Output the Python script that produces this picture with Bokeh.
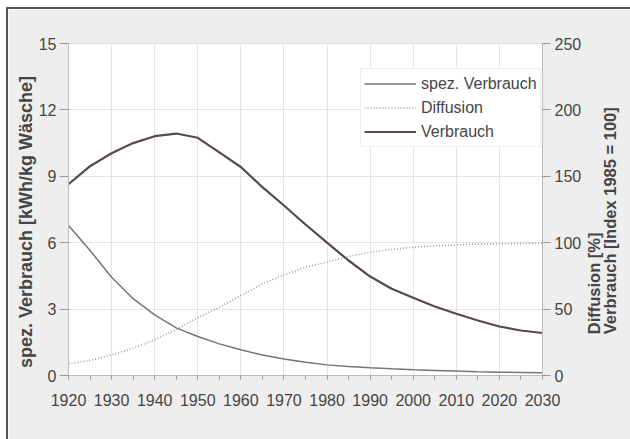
from bokeh.plotting import figure
from bokeh.models import (LinearAxis, Range1d, FixedTicker, Legend, LegendItem,
                          ColumnDataSource)
from bokeh.embed import file_html
from bokeh.resources import INLINE
import math

# ---- data ----
years = [1920, 1925, 1930, 1935, 1940, 1945, 1950, 1955, 1960, 1965, 1970, 1975,
         1980, 1985, 1990, 1995, 2000, 2005, 2010, 2015, 2020, 2025, 2030]
spez_verbrauch = [6.78, 5.65, 4.44, 3.47, 2.74, 2.15, 1.76, 1.43, 1.16, 0.93, 0.75, 0.60,
                  0.48, 0.41, 0.35, 0.30, 0.26, 0.23, 0.20, 0.17, 0.15, 0.14, 0.12]
diffusion = [8.8, 11.3, 15.6, 20.6, 26.9, 34.6, 43.4, 51.4, 60.2, 69.0, 75.8, 81.6,
             85.3, 89.6, 92.9, 94.9, 96.6, 97.6, 98.4, 98.9, 99.2, 99.4, 99.6]
verbrauch = [144, 157.6, 167.4, 175, 180.2, 182.2, 179, 168, 157, 141.8, 128, 113.7,
             100, 86.6, 74.5, 65.3, 58.5, 52, 46.5, 41.4, 36.9, 33.9, 32]

x_ticks = [1920, 1930, 1940, 1950, 1960, 1970, 1980, 1990, 2000, 2010, 2020, 2030]
x_minor = [1925, 1935, 1945, 1955, 1965, 1975, 1985, 1995, 2005, 2015, 2025]
left_ticks = [0, 3, 6, 9, 12, 15]
right_ticks = [0, 50, 100, 150, 200, 250]

NB = "\u00a0"
left_title = "spez. Verbrauch [kWh/kg Wäsche]"
right_title_1 = "Diffusion [%]"
right_title_2 = "Verbrauch [Index 1985 = 100]"

FONT = "Liberation Sans"
TXT = "#454545"

src = ColumnDataSource(dict(year=years, spez=spez_verbrauch, diff=diffusion, verb=verbrauch))

p = figure(width=622, height=430, output_backend="svg", toolbar_location=None,
           x_range=Range1d(1920, 2030), y_range=Range1d(0, 15),
           min_border_left=60, min_border_right=80, min_border_top=34, min_border_bottom=64)
p.extra_y_ranges = {"right": Range1d(0, 250)}

p.border_fill_color = "#eeeeee"
p.background_fill_color = "white"
p.outline_line_color = "#dddddd"
p.styles = {"margin-left": "8px", "margin-top": "9px", "outline": "2px solid #555555"}

# axes
xa = p.xaxis[0]
xa.ticker = FixedTicker(ticks=x_ticks, minor_ticks=x_minor)
ya = p.yaxis[0]
ya.ticker = FixedTicker(ticks=left_ticks)
ra = LinearAxis(y_range_name="right", ticker=FixedTicker(ticks=right_ticks))
p.add_layout(ra, "right")
ra2 = LinearAxis(y_range_name="right", ticker=FixedTicker(ticks=[]))
p.add_layout(ra2, "right")

for ax in (xa, ya, ra, ra2):
    ax.major_label_text_font = FONT
    ax.major_label_text_font_size = "16px"
    ax.major_label_text_color = TXT
    ax.axis_line_color = "#bbbbbb"
    ax.major_tick_line_color = "#999999"
    ax.major_tick_in = 0
    ax.minor_tick_in = 0
    ax.axis_label_text_font = FONT
    ax.axis_label_text_font_style = "bold"
    ax.axis_label_text_color = TXT
xa.major_tick_out = 4
xa.minor_tick_out = 4
xa.minor_tick_line_color = "#999999"
xa.major_label_standoff = 14
ya.major_tick_out = 9
ya.major_label_standoff = 3
ya.minor_tick_line_color = None
ra.major_tick_out = 8
ra.major_label_standoff = 4
ra.minor_tick_line_color = None
ra2.axis_line_color = None
ra2.major_tick_line_color = None
ra2.minor_tick_line_color = None
ra2.major_tick_out = 0
ra2.minor_tick_out = 0

# axis titles
ya.axis_label = left_title + NB * 5
ya.axis_label_text_font_size = "18px"
ya.axis_label_standoff = 0
ra.axis_label = NB * 9 + right_title_1
ra.axis_label_text_font_size = "16.5px"
ra.axis_label_standoff = 10
ra.axis_label_orientation = math.pi / 2
ra.axis_label_align = "start"
ra2.axis_label = NB * 9 + right_title_2
ra2.axis_label_text_font_size = "16.5px"
ra2.axis_label_standoff = -6
ra2.axis_label_orientation = math.pi / 2
ra2.axis_label_align = "start"

p.xgrid.ticker = FixedTicker(ticks=x_ticks)
p.ygrid.ticker = FixedTicker(ticks=left_ticks)
p.xgrid.grid_line_color = "#e4e4e4"
p.ygrid.grid_line_color = "#e4e4e4"

# lines
r_spez = p.line("year", "spez", source=src, line_color="#7d7272", line_width=1.5)
r_diff = p.line("year", "diff", source=src, y_range_name="right",
                line_color="#a39d9d", line_width=1.6, line_dash="1 2")
r_verb = p.line("year", "verb", source=src, y_range_name="right",
                line_color="#564a4a", line_width=2.2)

legend = Legend(items=[LegendItem(label="spez. Verbrauch", renderers=[r_spez]),
                       LegendItem(label="Diffusion", renderers=[r_diff]),
                       LegendItem(label="Verbrauch", renderers=[r_verb])],
                location=(292, 228))
legend.padding = 3
legend.spacing = 1
legend.label_height = 23
legend.glyph_height = 23
legend.glyph_width = 52
legend.label_standoff = 5
legend.label_text_font = FONT
legend.label_text_font_size = "16px"
legend.label_text_color = TXT
legend.border_line_color = "#e0e0e0"
legend.background_fill_color = "white"
legend.background_fill_alpha = 1.0
p.add_layout(legend, "center")

open("out.html", "w").write(file_html(p, INLINE))
